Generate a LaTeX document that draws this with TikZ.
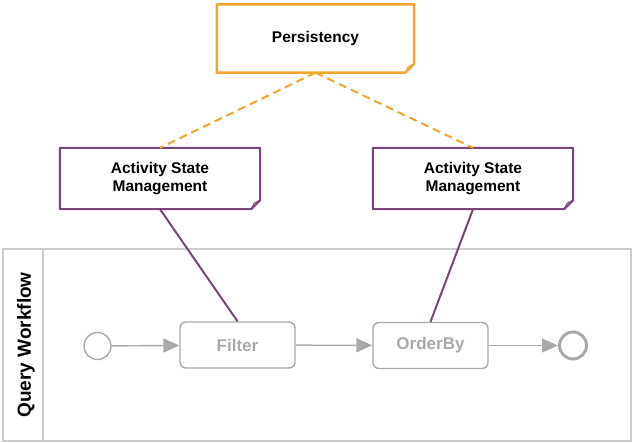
\documentclass[tikz,border=0pt]{standalone}
\usepackage{fontspec}
\setmainfont{Liberation Sans}
\usetikzlibrary{arrows.meta}

\definecolor{persorange}{HTML}{F5A42C}
\definecolor{statepurple}{HTML}{7A4579}
\definecolor{flowgray}{HTML}{A9A9A9}
\definecolor{lanegray}{HTML}{CCCCCC}

\tikzset{
  notebox/.style={minimum width=200pt,minimum height=61pt,align=center,
    font=\fontsize{15.5}{17.5}\selectfont\bfseries},
  taskbox/.style={draw=flowgray,line width=1.4pt,rounded corners=6pt,
    minimum width=115pt,minimum height=46pt,text=flowgray,
    font=\fontsize{17}{20}\selectfont\bfseries},
  flow/.style={draw=flowgray,line width=1.4pt,-{Triangle[length=16pt,width=14pt]}},
  persline/.style={persorange,line width=2pt,dash pattern=on 8pt off 5pt},
  stateline/.style={statepurple,line width=2pt}
}

% outline of a note with a folded corner
\newcommand{\foldnote}[3]{%
  \draw[#2,line width=#3,line join=round] (#1.north west) -- (#1.north east)
    -- ([yshift=9pt]#1.south east) -- ([xshift=-9pt]#1.south east)
    -- (#1.south west) -- cycle;
  \draw[#2,line width=1pt,line join=round] ([yshift=9pt]#1.south east)
    -- ([xshift=-6pt,yshift=6pt]#1.south east) -- ([xshift=-9pt]#1.south east);}

\begin{document}
\begin{tikzpicture}[x=1pt,y=-1pt]
\useasboundingbox (0,0) rectangle (632,442);

% lane
\draw[lanegray,line width=1.4pt] (3,249) rectangle (631,441);
\draw[lanegray,line width=1.4pt] (43,249) -- (43,441);
\node[rotate=90,font=\fontsize{19}{22}\selectfont\bfseries] (lane) at (26,345) {Query Workflow};

% notes
\node[notebox,minimum width=197pt,minimum height=68pt] (pers) at (315.5,38.5) {Persistency};
\node[notebox] (asmL) at (160,178.5) {Activity State\\Management};
\node[notebox] (asmR) at (473,178.5) {Activity State\\Management};

\foldnote{pers}{persorange}{2.5pt}
\foldnote{asmL}{statepurple}{2pt}
\foldnote{asmR}{statepurple}{2pt}

% workflow
\node[circle,draw=flowgray,line width=1.4pt,minimum size=27pt,inner sep=0pt] (start) at (97.5,346) {};
\node[taskbox] (filter) at (237.5,345) {Filter};
\node[taskbox] (orderby) at (430.5,345.5) {OrderBy};
\node[circle,draw=flowgray,line width=3pt,minimum size=27pt,inner sep=0pt] (end) at (573,345.5) {};

\draw[flow] (start) -- (filter);
\draw[flow] (filter) -- (orderby);
\draw[flow] (orderby) -- (end);

% links
\draw[persline] (pers.south) -- (asmL.north);
\draw[persline] (pers.south) -- (asmR.north);
\draw[stateline] (asmL.south) -- (filter.north);
\draw[stateline] (asmR.south) -- (orderby.north);
\end{tikzpicture}
\end{document}
